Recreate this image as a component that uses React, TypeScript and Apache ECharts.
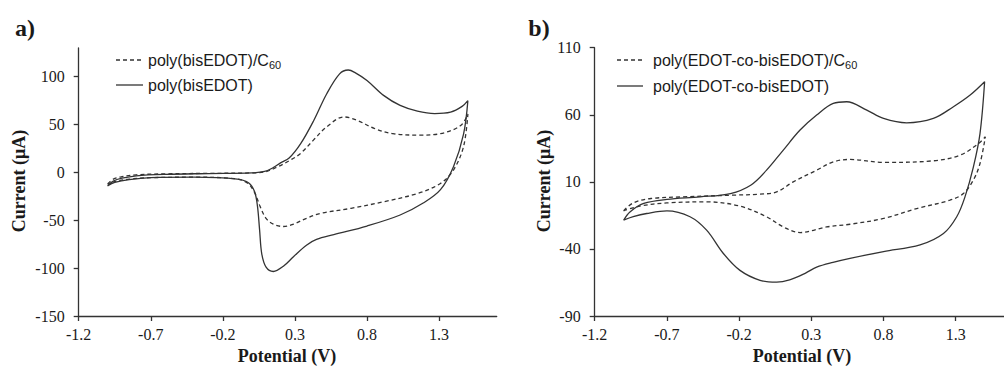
import React, { useEffect, useRef } from 'react';
import * as echarts from 'echarts';

// ---------- data ----------
const xTicks = [-1.2, -0.7, -0.2, 0.3, 0.8, 1.3];
const aYTicks = [-150, -100, -50, 0, 50, 100];
const bYTicks = [-90, -40, 10, 60, 110];

const aNames = ['poly(bisEDOT)/C60', 'poly(bisEDOT)'];
const bNames = ['poly(EDOT-co-bisEDOT)/C60', 'poly(EDOT-co-bisEDOT)'];

// panel a) dashed: poly(bisEDOT)/C60
const aDashed: number[][] = [
  [-1.0, -12], [-0.96, -7], [-0.9, -4.5], [-0.8, -2.5], [-0.6, -1.5], [-0.3, -1], [0.0, -0.5],
  [0.09, 0.5], [0.175, 5.5], [0.27, 13], [0.34, 20], [0.43, 34], [0.52, 47.5], [0.64, 58],
  [0.73, 54.5], [0.85, 46], [0.98, 40.5], [1.17, 39], [1.31, 40.5], [1.45, 49], [1.5, 61],
  [1.47, 27], [1.4, 2.5], [1.31, -11.5], [1.15, -22], [0.92, -30.5], [0.69, -37.5], [0.48, -42.7],
  [0.38, -48], [0.29, -54], [0.22, -56.5], [0.15, -54], [0.1, -48], [0.06, -36], [0.02, -21],
  [-0.03, -11], [-0.12, -6.5], [-0.4, -5], [-0.7, -5.5], [-0.85, -7], [-0.95, -9.5], [-1.0, -12],
];

// panel a) solid: poly(bisEDOT)
const aSolid: number[][] = [
  [-1.0, -14], [-0.96, -9], [-0.9, -6], [-0.8, -3.5], [-0.6, -2], [-0.3, -1.2], [0.0, -0.5],
  [0.09, 1], [0.15, 5], [0.2, 10], [0.26, 15], [0.34, 30], [0.43, 54], [0.52, 82], [0.61, 103],
  [0.67, 107], [0.72, 104], [0.8, 96], [0.915, 80.5], [1.03, 70], [1.15, 64], [1.27, 61.5],
  [1.38, 63], [1.46, 69], [1.5, 75],
  [1.47, 40], [1.4, 6], [1.31, -18], [1.19, -32], [1.03, -44.5], [0.8, -56], [0.57, -65],
  [0.45, -70], [0.38, -76], [0.29, -88], [0.22, -98], [0.15, -103.5], [0.1, -99], [0.07, -85],
  [0.055, -60], [0.04, -35], [0.02, -20], [-0.02, -11], [-0.1, -7], [-0.4, -5], [-0.7, -5.5],
  [-0.85, -7.5], [-0.95, -10.5], [-1.0, -14],
];

// panel b) dashed: poly(EDOT-co-bisEDOT)/C60
const bDashed: number[][] = [
  [-1.0, -11.6], [-0.933, -5.7], [-0.81, -2.4], [-0.587, -1.2], [-0.24, 0.1], [-0.055, 0.8],
  [0.06, 2.5], [0.175, 10], [0.337, 18.7], [0.452, 24.9], [0.568, 26.7], [0.8, 24.5],
  [1.145, 25.7], [1.33, 29.9], [1.46, 38.7], [1.505, 43.6],
  [1.468, 23.7], [1.422, 11.3], [1.353, 1.3], [1.26, -3.7], [1.03, -9.9], [0.8, -17.3],
  [0.568, -21.6], [0.406, -23.6], [0.222, -27.8], [0.106, -23.6], [-0.009, -16.1],
  [-0.194, -8.1], [-0.425, -4.9], [-0.7, -5.7], [-0.887, -8.1], [-1.0, -11.6],
];

// panel b) solid: poly(EDOT-co-bisEDOT)
const bSolid: number[][] = [
  [-1.0, -18.6], [-0.956, -12.4], [-0.86, -6.1], [-0.7, -3.1], [-0.47, -1.2], [-0.26, 1.3],
  [-0.12, 7.5], [-0.01, 18.7], [0.106, 33.7], [0.222, 48.6], [0.337, 59.8], [0.452, 68.5],
  [0.545, 69.7], [0.684, 63.5], [0.8, 57.3], [0.96, 54], [1.145, 57.3], [1.284, 66],
  [1.4, 74.7], [1.5, 84.6],
  [1.468, 46], [1.422, 21], [1.364, -1.2], [1.307, -16], [1.215, -28.5], [1.053, -37],
  [0.8, -42], [0.568, -47], [0.45, -50], [0.337, -53.6], [0.26, -58], [0.15, -63], [0.06, -64.8],
  [-0.055, -63.4], [-0.194, -56], [-0.309, -43.4], [-0.425, -26], [-0.54, -16], [-0.7, -11.6],
  [-0.84, -13.6], [-0.933, -16], [-1.0, -18.6],
];

// ---------- styling ----------
const INK = '#1a1a1a';
const LINE = '#333333';
const SERIF = 'Liberation Serif';
const SANS = 'Liberation Sans';

function axisBase(ticks: number[], margin: number, fmt?: (v: number) => string) {
  return {
    type: 'value' as const,
    axisLine: { show: true, onZero: false, lineStyle: { color: LINE, width: 1.3 } },
    axisTick: { show: true, length: 5, customValues: ticks, lineStyle: { color: LINE, width: 1.3 } },
    splitLine: { show: false },
    axisLabel: {
      customValues: ticks,
      color: INK,
      fontFamily: SERIF,
      fontSize: 16,
      margin,
      formatter: fmt,
    },
  };
}

function legendItems(x0: number, x1: number, textX: number, y1: number, y2: number, names: string[]) {
  const [n1, n2] = names;
  const base = n1.replace(/C60$/, 'C{s|60}');
  return [
    {
      type: 'line',
      shape: { x1: x0, y1, x2: x1, y2: y1 },
      style: { stroke: LINE, lineWidth: 1.3, lineDash: [4, 3] },
    },
    {
      type: 'text',
      x: textX,
      y: y1,
      style: {
        text: base,
        fill: INK,
        fontFamily: SANS,
        fontSize: 16,
        lineHeight: 20,
        verticalAlign: 'middle',
        align: 'left',
        rich: { s: { fontFamily: SANS, fontSize: 11, lineHeight: 12, verticalAlign: 'bottom', fill: INK } },
      },
    },
    {
      type: 'line',
      shape: { x1: x0, y1: y2, x2: x1, y2 },
      style: { stroke: LINE, lineWidth: 1.3 },
    },
    {
      type: 'text',
      x: textX,
      y: y2,
      style: { text: n2, fill: INK, fontFamily: SANS, fontSize: 16, verticalAlign: 'middle', align: 'left' },
    },
  ];
}

function titleText(text: string, x: number, y: number, size: number, rotate = 0) {
  return {
    type: 'text',
    x,
    y,
    rotation: rotate,
    style: {
      text,
      fill: INK,
      fontFamily: SERIF,
      fontWeight: 'bold',
      fontSize: size,
      align: 'center',
      verticalAlign: 'middle',
    },
  };
}

export default function App() {
  const ref = useRef<HTMLDivElement>(null);

  useEffect(() => {
    if (!ref.current) return;
    document.body.style.margin = '0';
    document.body.style.overflow = 'hidden';
    const chart = echarts.init(ref.current, undefined, { renderer: 'svg' });
    const fmt1 = (v: number) => v.toFixed(1);
    const lineSeries = (name: string, data: number[][], idx: number, dashed: boolean) => ({
      name,
      type: 'line',
      xAxisIndex: idx,
      yAxisIndex: idx,
      data,
      smooth: 0.35,
      showSymbol: false,
      symbol: 'none',
      clip: false,
      lineStyle: { color: LINE, width: 1.3, type: dashed ? [4, 3] : 'solid' },
    });
    chart.setOption({
      animation: false,
      backgroundColor: '#ffffff',
      grid: [
        { left: 78.7, top: 48, width: 418, height: 268 },
        { left: 594.7, top: 47.7, width: 418.8, height: 268.3 },
      ],
      xAxis: [
        { gridIndex: 0, min: -1.2, max: 1.7, ...axisBase(xTicks, 10, fmt1) },
        { gridIndex: 1, min: -1.2, max: 1.7, ...axisBase(xTicks, 10, fmt1) },
      ],
      yAxis: [
        { gridIndex: 0, min: -150, max: 130, ...axisBase(aYTicks, 14) },
        { gridIndex: 1, min: -90, max: 110, ...axisBase(bYTicks, 14) },
      ],
      series: [
        lineSeries(aNames[0], aDashed, 0, true),
        lineSeries(aNames[1], aSolid, 0, false),
        lineSeries(bNames[0], bDashed, 1, true),
        lineSeries(bNames[1], bSolid, 1, false),
      ],
      graphic: [
        titleText('a)', 25, 28, 24),
        titleText('b)', 539, 28, 24),
        titleText('Current (μA)', 19, 181, 18, Math.PI / 2),
        titleText('Current (μA)', 544, 181, 18, Math.PI / 2),
        titleText('Potential (V)', 287, 356, 18),
        titleText('Potential (V)', 802, 356, 18),
        ...legendItems(116, 143, 148, 60, 85, aNames),
        ...legendItems(617, 643, 653, 60, 86, bNames),
      ],
    });
    return () => chart.dispose();
  }, []);

  return (
    <div
      ref={ref}
      style={{ position: 'fixed', left: 0, top: 0, width: 1020, height: 367, background: '#fff' }}
    />
  );
}
